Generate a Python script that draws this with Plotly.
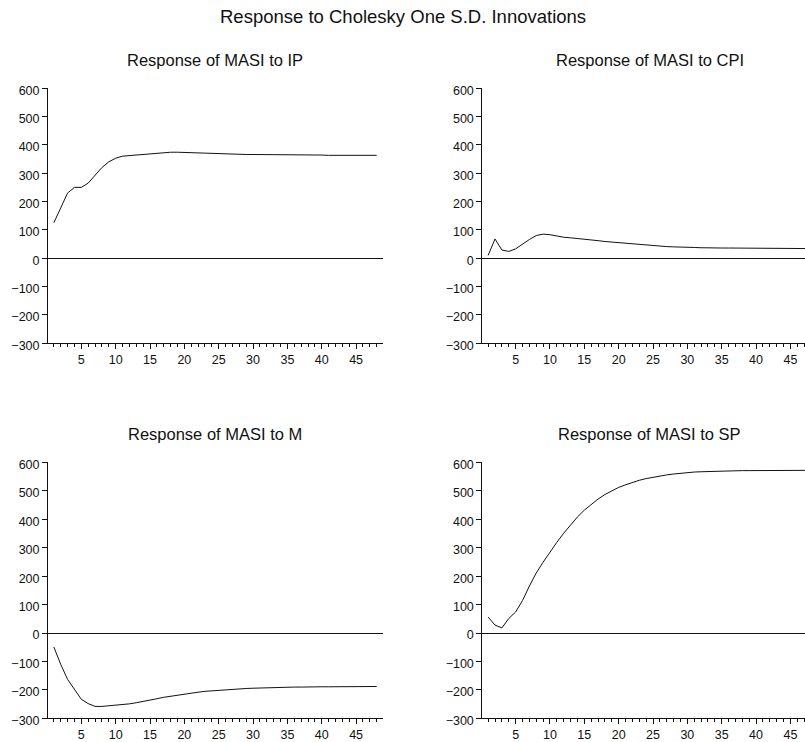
import plotly.graph_objects as go

periods = list(range(1, 49))

resp_ip = [125, 180, 230, 250, 250, 265, 294, 320, 340, 353,
           360, 362, 364, 366, 369, 371, 373, 374, 374, 373,
           372, 371, 370, 370, 369, 369, 368, 367, 366, 366,
           366, 365, 365, 364, 364, 364, 364, 364, 364, 364,
           363, 363, 363, 363, 363, 363, 363, 363]

resp_cpi = [10, 68, 29, 24, 33, 50, 66, 80, 85, 83,
            78, 74, 72, 70, 68, 65, 62, 59, 57, 54,
            51, 49, 47, 46, 45, 43, 41, 40, 40, 39,
            38, 37, 36, 36, 36, 36, 36, 36, 35, 35,
            35, 34, 34, 34, 34, 34, 34, 34]

resp_m = [-49, -110, -163, -198, -233, -248, -258, -258, -256, -254,
          -252, -249, -245, -241, -236, -231, -226, -222, -218, -214,
          -211, -208, -205, -203, -201, -199, -197, -196, -195, -194,
          -193, -192, -191, -191, -190, -190, -190, -189, -189, -189,
          -189, -189, -188, -188, -188, -188, -188, -188]

resp_sp = [56, 28, 18, 51, 74, 114, 165, 211, 249, 285,
           319, 351, 381, 408, 432, 453, 471, 487, 500, 512,
           521, 530, 537, 543, 548, 552, 556, 559, 562, 564,
           566, 567, 568, 569, 570, 570, 571, 571, 571, 571,
           572, 572, 572, 572, 572, 572, 572, 572]

panel_titles = ["Response of MASI to IP", "Response of MASI to CPI",
                "Response of MASI to M", "Response of MASI to SP"]
main_title = "Response to Cholesky One S.D. Innovations"
y_ticks = [-300, -200, -100, 0, 100, 200, 300, 400, 500, 600]

W, H = 805, 742
FONT = "Arial, Liberation Sans, sans-serif"
INK = "#111111"


def fy(ref_y):
    # vertical calibration of the rendered page
    return (ref_y - 6.2) / 0.98


# panel geometry in pixels (reference coordinates)
left_x = (48.0, 382.6)
right_x = (482.3, 805.0)
top_y = (fy(89.5), fy(345.0))
bot_y = (fy(464.3), fy(720.7))
unit = 6.87
x0 = 0.15
x_full = [x0, x0 + (left_x[1] - left_x[0]) / unit]
x_clip = [x0, x0 + (right_x[1] - right_x[0]) / unit]
full_width = left_x[1] - left_x[0]
sub_y = [fy(61.5), fy(61.5), fy(436.0), fy(436.0)]


def xd(p):
    return [p[0] / W, p[1] / W]


def yd(p):
    return [1 - p[1] / H, 1 - p[0] / H]


panels = [
    (resp_ip, left_x, top_y, x_full),
    (resp_cpi, right_x, top_y, x_clip),
    (resp_m, left_x, bot_y, x_full),
    (resp_sp, right_x, bot_y, x_clip),
]

fig = go.Figure()
layout = dict(
    width=W, height=H,
    margin=dict(l=0, r=0, t=0, b=0),
    paper_bgcolor="white", plot_bgcolor="white",
    showlegend=False,
    font=dict(family=FONT, color=INK, size=12),
)

annotations = [dict(text=main_title, xref="paper", yref="paper",
                    x=402.5 / W, y=1 - fy(17.3) / H, xanchor="center", yanchor="middle",
                    showarrow=False, font=dict(size=18.5, family=FONT, color=INK))]

for i, (vals, px, py, rng) in enumerate(panels):
    n = "" if i == 0 else str(i + 1)
    fig.add_trace(go.Scatter(x=periods, y=vals, mode="lines",
                             line=dict(color=INK, width=1),
                             xaxis="x" + n, yaxis="y" + n, hoverinfo="skip"))
    layout["xaxis" + n] = dict(
        domain=xd(px), range=rng, anchor="y" + n,
        showgrid=False, zeroline=False, showline=True, linecolor=INK, linewidth=1,
        ticks="outside", ticklen=5, tickcolor=INK, tickwidth=1,
        tick0=0, dtick=5, tickfont=dict(size=12.5, family=FONT, color=INK),
        ticklabeloverflow="allow",
        minor=dict(dtick=1, tick0=0, ticks="outside", ticklen=3, tickcolor=INK, tickwidth=1, showgrid=False),
        fixedrange=True,
    )
    layout["yaxis" + n] = dict(
        domain=yd(py), range=[-300, 600], anchor="x" + n,
        showgrid=False, zeroline=True, zerolinecolor=INK, zerolinewidth=1,
        showline=True, linecolor=INK, linewidth=1,
        ticks="outside", ticklen=5, tickcolor=INK, tickwidth=1,
        tickvals=y_ticks, ticklabelshift=2,
        tickfont=dict(size=12.5, family=FONT, color=INK),
        fixedrange=True,
    )
    cx = px[0] + full_width / 2
    annotations.append(dict(text=panel_titles[i], xref="paper", yref="paper",
                            x=cx / W, y=1 - sub_y[i] / H,
                            xanchor="center", yanchor="middle", showarrow=False,
                            font=dict(size=16.5, family=FONT, color=INK)))

layout["annotations"] = annotations
fig.update_layout(**layout)
fig.write_html(
    "out.html", config={"displayModeBar": False},
    post_script=("document.body.style.margin='0';"
                 "document.body.style.overflow='hidden';"
                 "document.documentElement.style.overflow='hidden';"),
)
